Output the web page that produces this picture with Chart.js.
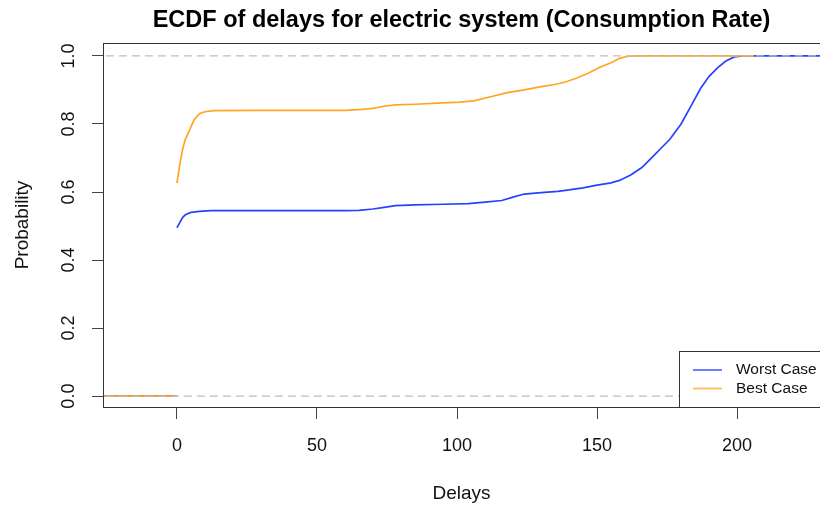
<!DOCTYPE html>
<html>
<head>
<meta charset="utf-8">
<title>ECDF of delays</title>
<script src="https://cdn.jsdelivr.net/npm/chart.js@4/dist/chart.umd.min.js"></script>
<style>
  html, body { margin: 0; padding: 0; background: #fff; }
  #wrap { width: 820px; height: 505px; position: relative; }
</style>
</head>
<body>
<div id="wrap"><canvas id="myChart" width="820" height="505"></canvas></div>
<script>
// data
var worstX = [-30, 0, 0, 0, 1, 2, 3, 5, 8, 12, 30, 60, 65, 70, 74, 78, 85, 95, 104, 110, 116, 120, 124, 130, 136, 140, 145, 150, 155, 158, 162, 166, 170, 173, 176, 180, 184, 187, 190, 193, 196, 199, 202, 240];
var worstY = [0, 0, null, 0.495, 0.51, 0.525, 0.533, 0.54, 0.543, 0.545, 0.545, 0.545, 0.546, 0.55, 0.555, 0.56, 0.562, 0.564, 0.566, 0.57, 0.575, 0.585, 0.594, 0.598, 0.602, 0.606, 0.612, 0.62, 0.627, 0.634, 0.65, 0.672, 0.705, 0.73, 0.755, 0.8, 0.86, 0.905, 0.94, 0.965, 0.985, 0.997, 1.0, 1.0];

var bestX = [-30, 0, 0, 0, 1, 2, 3, 4.4, 6, 8, 10, 13, 30, 60, 66, 70, 74, 78, 85, 95, 101, 106, 112, 118, 124, 130, 135, 139, 143, 147, 151, 155, 158, 161, 165, 206];
var bestY = [0, 0, null, 0.626, 0.68, 0.725, 0.755, 0.78, 0.81, 0.83, 0.836, 0.839, 0.84, 0.84, 0.843, 0.846, 0.852, 0.856, 0.858, 0.862, 0.864, 0.868, 0.88, 0.892, 0.9, 0.91, 0.916, 0.924, 0.936, 0.95, 0.967, 0.98, 0.993, 0.999, 1.0, 1.0];

var refLevels = [0, 1];
var xTicks = [0, 50, 100, 150, 200];
var yTicks = [0, 0.2, 0.4, 0.6, 0.8, 1.0];

var seriesNames = ['Worst Case', 'Best Case'];
var blue = '#2742ff';
var orange = '#ffa520';

function toPoints(xs, ys) {
    return xs.map(function(x, i) { return { x: x, y: ys[i] }; });
}

// box around the plot region and the legend (R style)
var framePlugin = {
    id: 'frame',
    afterDatasetsDraw: function(chart) {
        var ctx = chart.ctx;
        var a = chart.chartArea;
        ctx.save();
        ctx.strokeStyle = '#333';
        ctx.lineWidth = 1;
        ctx.strokeRect(a.left + 0.5, a.top + 0.5, a.right - a.left + 10, a.bottom - a.top);

        // legend
        var lx = 679, ly = 351;
        ctx.fillStyle = '#fff';
        ctx.fillRect(lx, ly, 200, a.bottom - ly);
        ctx.strokeRect(lx + 0.5, ly + 0.5, 200, a.bottom - ly);
        var colors = [blue, orange];
        ctx.font = '15.5px "Liberation Sans", Arial, sans-serif';
        ctx.textBaseline = 'middle';
        ctx.textAlign = 'left';
        seriesNames.forEach(function(name, i) {
            var y = 370 + i * 18.5;
            ctx.strokeStyle = colors[i];
            ctx.globalAlpha = 0.75;
            ctx.lineWidth = 1.8;
            ctx.beginPath();
            ctx.moveTo(693, y);
            ctx.lineTo(722, y);
            ctx.stroke();
            ctx.globalAlpha = 1;
            ctx.fillStyle = '#111';
            ctx.fillText(name, 736, y);
        });
        ctx.restore();
    }
};

document.addEventListener('DOMContentLoaded', function() {
    var ctx = document.getElementById('myChart').getContext('2d');

    var datasets = refLevels.map(function(level) {
        return {
            data: [{ x: -30, y: level }, { x: 240, y: level }],
            borderColor: '#bdbdbd',
            borderWidth: 1.3,
            borderDash: [8, 5],
            pointRadius: 0,
            order: 0
        };
    });
    datasets.push({
        label: seriesNames[1],
        data: toPoints(bestX, bestY),
        borderColor: orange,
        borderWidth: 1.7,
        pointRadius: 0,
        spanGaps: false,
        order: 1
    });
    datasets.push({
        label: seriesNames[0],
        data: toPoints(worstX, worstY),
        borderColor: blue,
        borderWidth: 1.7,
        pointRadius: 0,
        spanGaps: false,
        order: 2
    });

    var font = '"Liberation Sans", Arial, sans-serif';

    new Chart(ctx, {
        type: 'line',
        data: { datasets: datasets },
        options: {
            responsive: false,
            animation: false,
            layout: { padding: 0 },
            plugins: {
                legend: { display: false },
                tooltip: { enabled: false },
                title: {
                    display: true,
                    fullSize: false,
                    text: 'ECDF of delays for electric system (Consumption Rate)',
                    color: '#000',
                    font: { family: font, size: 23.5, weight: 'bold' },
                    padding: { top: 6.7, bottom: 8.1 }
                }
            },
            scales: {
                x: {
                    type: 'linear',
                    min: -26.4,
                    max: 229.6,
                    afterBuildTicks: function(s) {
                        s.ticks = xTicks.map(function(v) { return { value: v }; });
                    },
                    afterFit: function(s) { s.height = 98; },
                    grid: { display: true, drawOnChartArea: false, drawTicks: true, tickLength: 12, color: '#444' },
                    border: { display: false },
                    ticks: { color: '#111', font: { family: font, size: 18 }, padding: 16, maxRotation: 0, autoSkip: false },
                    title: {
                        display: true,
                        text: 'Delays',
                        color: '#111',
                        font: { family: font, size: 19 },
                        padding: { top: 0, bottom: 0 }
                    }
                },
                y: {
                    type: 'linear',
                    min: -0.032,
                    max: 1.038,
                    afterBuildTicks: function(s) {
                        s.ticks = yTicks.map(function(v) { return { value: v }; });
                    },
                    afterFit: function(s) { s.width = 103; },
                    grid: { display: true, drawOnChartArea: false, drawTicks: true, tickLength: 11, color: '#444' },
                    border: { display: false },
                    ticks: {
                        color: '#111',
                        font: { family: font, size: 18 },
                        minRotation: 90,
                        maxRotation: 90,
                        crossAlign: 'center',
                        padding: 10,
                        autoSkip: false,
                        callback: function(v) { return Number(v).toFixed(1); }
                    },
                    title: {
                        display: true,
                        text: 'Probability',
                        color: '#111',
                        font: { family: font, size: 19 },
                        padding: { top: 11.5, bottom: 0 }
                    }
                }
            }
        },
        plugins: [framePlugin]
    });
});
</script>
</body>
</html>
